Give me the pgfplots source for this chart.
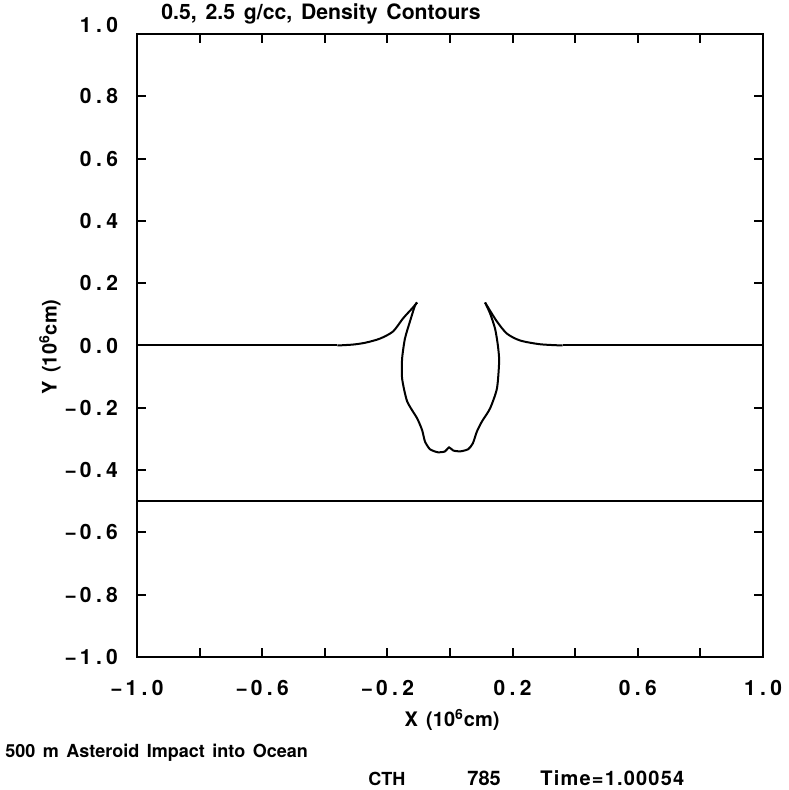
\documentclass[border=0pt]{standalone}
\usepackage{fontspec}
\setmainfont{TeX Gyre Heros}[WordSpace=1.5]
\usepackage{pgfplots}
\pgfplotsset{compat=1.18}
\newcommand\dd[2]{#1\hspace{2.2pt}.\hspace{2.2pt}#2}
\newcommand\mn{−\hspace{1.5pt}}
\begin{document}
\begin{tikzpicture}
\begin{axis}[
  scale only axis, width=313pt, height=311.5pt,
  xmin=-1, xmax=1, ymin=-1, ymax=1,
  axis line style={line width=1.4pt},
  tick style={line width=1pt, black},
  major tick length=4.5pt,
  tick align=inside,
  xtick={-1,-0.8,-0.6,-0.4,-0.2,0,0.2,0.4,0.6,0.8,1},
  ytick={-1,-0.8,-0.6,-0.4,-0.2,0,0.2,0.4,0.6,0.8,1},
  xticklabels={\mn\dd{1}{0},,\mn\dd{0}{6},,\mn\dd{0}{2},,\dd{0}{2},,\dd{0}{6},,\dd{1}{0}},
  yticklabels={\mn\dd{1}{0},\mn\dd{0}{8},\mn\dd{0}{6},\mn\dd{0}{4},\mn\dd{0}{2},\dd{0}{0},\dd{0}{2},\dd{0}{4},\dd{0}{6},\dd{0}{8},\raisebox{9pt}{\dd{1}{0}}},
  ticklabel style={font=\bfseries\fontsize{10.5}{12}\selectfont},
  xticklabel style={yshift=-8pt},
  yticklabel style={xshift=-6pt},
  clip=false,
]
\coordinate (sw) at (rel axis cs:0,0);
% left free surface
\addplot[black, line width=1pt] coordinates {(-1,0) (-0.36,0)};
\addplot[black, line width=1pt, smooth, tension=0.45] coordinates {
(-0.36,0) (-0.31,0.003) (-0.27,0.009) (-0.224,0.022) (-0.182,0.045)
(-0.150,0.087) (-0.121,0.119) (-0.105,0.138)};
% crater cavity
\addplot[black, line width=1pt, smooth, tension=0.4] coordinates {
(-0.105,0.138) (-0.112,0.128) (-0.128,0.077) (-0.144,0.022) (-0.153,-0.042) (-0.153,-0.106)
(-0.137,-0.179) (-0.105,-0.234) (-0.089,-0.272) (-0.080,-0.308) (-0.064,-0.333) (-0.038,-0.343)
(-0.016,-0.340) (-0.003,-0.327) (0.010,-0.337) (0.032,-0.340) (0.058,-0.333) (0.073,-0.314)
(0.086,-0.276) (0.102,-0.244) (0.128,-0.202) (0.150,-0.138) (0.157,-0.051) (0.153,0.0)
(0.144,0.054) (0.128,0.103) (0.112,0.138)};
% right free surface
\addplot[black, line width=1pt, smooth, tension=0.45] coordinates {
(0.112,0.138) (0.118,0.128) (0.150,0.077) (0.182,0.038) (0.224,0.016) (0.288,0.004)
(0.36,0)};
\addplot[black, line width=1pt] coordinates {(0.36,0) (1,0)};
% lower density interface
\addplot[black, line width=1pt] coordinates {(-1,-0.5) (1,-0.5)};
\end{axis}
\pgfresetboundingbox
\path[use as bounding box] ([shift={(-68.5pt,-66.5pt)}]sw) rectangle ([shift={(325.5pt,328.5pt)}]sw);
\begin{scope}[every node/.style={font=\bfseries\fontsize{10}{12}\selectfont, inner sep=0pt}]
\node[anchor=base west, font=\bfseries\fontsize{10.6}{12}\selectfont] at ([shift={(12pt,318.5pt)}]sw) {0.5, 2.5 g/cc, Density Contours};
\node[anchor=center] at ([shift={(157.5pt,-31.5pt)}]sw) {X (10\textsuperscript{6}cm)};
\node[anchor=center, rotate=90] at ([shift={(-43.5pt,155pt)}]sw) {Y (10\textsuperscript{6}cm)};
\node[anchor=base west, font=\bfseries\fontsize{9}{12}\selectfont] at ([shift={(-66pt,-50pt)}]sw) {500 m Asteroid Impact into Ocean};
\node[anchor=base west, font=\bfseries\fontsize{9}{12}\selectfont] at ([shift={(115.5pt,-64pt)}]sw) {CTH};
\node[anchor=base west] at ([shift={(165pt,-64pt)}]sw) {785};
\node[anchor=base west, font=\bfseries\fontsize{10}{12}\selectfont\addfontfeatures{LetterSpace=6}] at ([shift={(201.5pt,-64pt)}]sw) {Time=1.00054};
\end{scope}
\end{tikzpicture}
\end{document}
